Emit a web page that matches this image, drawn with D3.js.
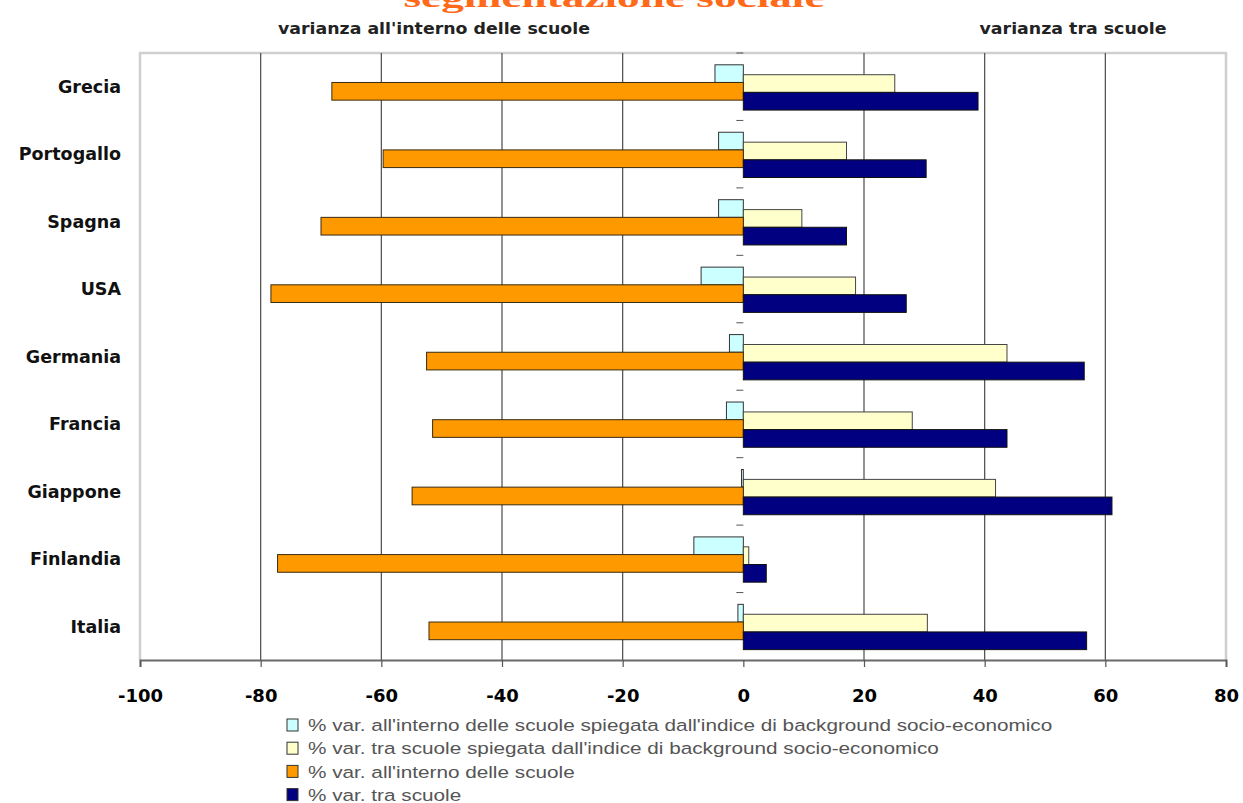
<!DOCTYPE html>
<html>
<head>
<meta charset="utf-8">
<script src="https://cdn.jsdelivr.net/npm/d3@7"></script>
<style>
  html, body { margin: 0; padding: 0; background: #ffffff; }
  svg { display: block; }
</style>
</head>
<body>
<svg id="chart" width="1243" height="803"></svg>
<script>
// Paesi, dall'alto verso il basso
const countries = ["Grecia", "Portogallo", "Spagna", "USA", "Germania", "Francia", "Giappone", "Finlandia", "Italia"];

// % varianza all'interno delle scuole spiegata dall'indice di background socio-economico
const withinExplained = [-4.7, -4.1, -4.1, -7.0, -2.3, -2.8, -0.3, -8.2, -0.9];
// % varianza tra scuole spiegata dall'indice di background socio-economico
const betweenExplained = [25.1, 17.1, 9.7, 18.6, 43.7, 28.0, 41.8, 0.9, 30.5];
// % varianza all'interno delle scuole
const withinVar = [-68.2, -59.7, -70.0, -78.3, -52.5, -51.5, -54.9, -77.2, -52.1];
// % varianza tra scuole
const betweenVar = [38.9, 30.3, 17.1, 27.0, 56.5, 43.7, 61.1, 3.8, 56.9];

const xTicks = [-100, -80, -60, -40, -20, 0, 20, 40, 60, 80];

const seriesNames = [
  "% var. all'interno delle scuole spiegata dall'indice di background socio-economico",
  "% var. tra scuole spiegata dall'indice di background socio-economico",
  "% var. all'interno delle scuole",
  "% var. tra scuole"
];
const seriesColors = ["#ccffff", "#ffffcc", "#ff9900", "#000080"];

const titleText = "segmentazione sociale";
const leftHeader = "varianza all'interno delle scuole";
const rightHeader = "varianza tra scuole";

// ---- layout ----
const svg = d3.select("#chart");
const plot = { left: 140, right: 1226, top: 53, bottom: 660 };

const x = d3.scaleLinear().domain([-100, 80]).range([plot.left, plot.right]);
const y = d3.scaleBand().domain(countries).range([plot.top, plot.bottom]).padding(0);
const bw = y.bandwidth();
const barH = bw * 0.262;

// Title (its upper part runs off the top of the page)
svg.append("text")
  .attr("x", 614).attr("y", 7)
  .attr("text-anchor", "middle")
  .attr("font-family", "Liberation Serif, serif")
  .attr("font-weight", "bold")
  .attr("font-size", 28)
  .attr("textLength", 421).attr("lengthAdjust", "spacingAndGlyphs")
  .attr("fill", "#ff6a1a")
  .text(titleText);

// Headers above the plot
svg.append("text")
  .attr("x", 434).attr("y", 34)
  .attr("text-anchor", "middle")
  .attr("font-family", "DejaVu Sans, sans-serif")
  .attr("font-weight", "bold")
  .attr("font-size", 15)
  .attr("textLength", 312).attr("lengthAdjust", "spacingAndGlyphs")
  .attr("fill", "#222")
  .text(leftHeader);
svg.append("text")
  .attr("x", 1073).attr("y", 34)
  .attr("text-anchor", "middle")
  .attr("font-family", "DejaVu Sans, sans-serif")
  .attr("font-weight", "bold")
  .attr("font-size", 15)
  .attr("textLength", 187).attr("lengthAdjust", "spacingAndGlyphs")
  .attr("fill", "#222")
  .text(rightHeader);

// Plot frame (left, top, right)
svg.append("path")
  .attr("d", `M${plot.left},${plot.bottom} V${plot.top} H${plot.right} V${plot.bottom}`)
  .attr("fill", "none")
  .attr("stroke", "#cfcfcf")
  .attr("stroke-width", 2.5);

// Vertical gridlines
svg.append("g")
  .selectAll("line")
  .data(xTicks.filter(t => t !== 0 && t !== -100 && t !== 80))
  .join("line")
  .attr("x1", d => x(d)).attr("x2", d => x(d))
  .attr("y1", plot.top).attr("y2", plot.bottom)
  .attr("stroke", "#4a4a4a")
  .attr("stroke-width", 1.2);

// Bars
const series = [
  { values: withinExplained, color: seriesColors[0], offset: 0.175, stroke: "#333" },
  { values: betweenExplained, color: seriesColors[1], offset: 0.322, stroke: "#444" },
  { values: withinVar, color: seriesColors[2], offset: 0.437, stroke: "#3a2a10" },
  { values: betweenVar, color: seriesColors[3], offset: 0.584, stroke: "#111" }
];

series.forEach(s => {
  svg.append("g")
    .selectAll("rect")
    .data(countries.map((c, i) => ({ c, v: s.values[i] })))
    .join("rect")
    .attr("x", d => x(Math.min(0, d.v)))
    .attr("width", d => Math.abs(x(d.v) - x(0)))
    .attr("y", d => y(d.c) + bw * s.offset)
    .attr("height", barH)
    .attr("fill", s.color)
    .attr("stroke", s.stroke)
    .attr("stroke-width", 1);
});

// Small ticks on the category axis at zero
svg.append("g")
  .selectAll("line")
  .data(d3.range(countries.length))
  .join("line")
  .attr("x1", x(0) - 7).attr("x2", x(0))
  .attr("y1", i => plot.top + i * bw).attr("y2", i => plot.top + i * bw)
  .attr("stroke", "#555")
  .attr("stroke-width", 1);

// Category labels
svg.append("g")
  .selectAll("text")
  .data(countries)
  .join("text")
  .attr("x", 121)
  .attr("y", d => y(d) + bw / 2)
  .attr("dy", "0.36em")
  .attr("text-anchor", "end")
  .attr("font-family", "DejaVu Sans, sans-serif")
  .attr("font-weight", "bold")
  .attr("font-size", 17.5)
  .attr("fill", "#111")
  .text(d => d);

// Value axis at the bottom
const xAxis = d3.axisBottom(x)
  .tickValues(xTicks)
  .tickSize(7)
  .tickPadding(22)
  .tickFormat(d3.format("d"));

const gx = svg.append("g")
  .attr("transform", `translate(0,${plot.bottom})`)
  .call(xAxis);
gx.select(".domain").attr("stroke", "#6a6a6a").attr("stroke-width", 2);
gx.selectAll(".tick line").attr("stroke", "#555").attr("stroke-width", 1.2);
gx.selectAll(".tick text")
  .attr("font-family", "DejaVu Sans, sans-serif")
  .attr("font-weight", "bold")
  .attr("font-size", 18)
  .attr("fill", "#000")
  .text(d => (d < 0 ? "-" + Math.abs(d) : d));

// Legend
const legend = svg.append("g").attr("transform", "translate(287,719)");
const row = legend.selectAll("g")
  .data(seriesNames)
  .join("g")
  .attr("transform", (d, i) => `translate(0,${i * 23.2})`);
row.append("rect")
  .attr("x", 0).attr("y", 0)
  .attr("width", 11).attr("height", 12)
  .attr("fill", (d, i) => seriesColors[i])
  .attr("stroke", "#333")
  .attr("stroke-width", 1);
row.append("text")
  .attr("transform", "translate(21,6) scale(1.22,1)")
  .attr("dy", "0.36em")
  .attr("font-family", "Liberation Sans, Arial, sans-serif")
  .attr("font-size", 17)
  .attr("fill", "#555")
  .text(d => d);
</script>
</body>
</html>
